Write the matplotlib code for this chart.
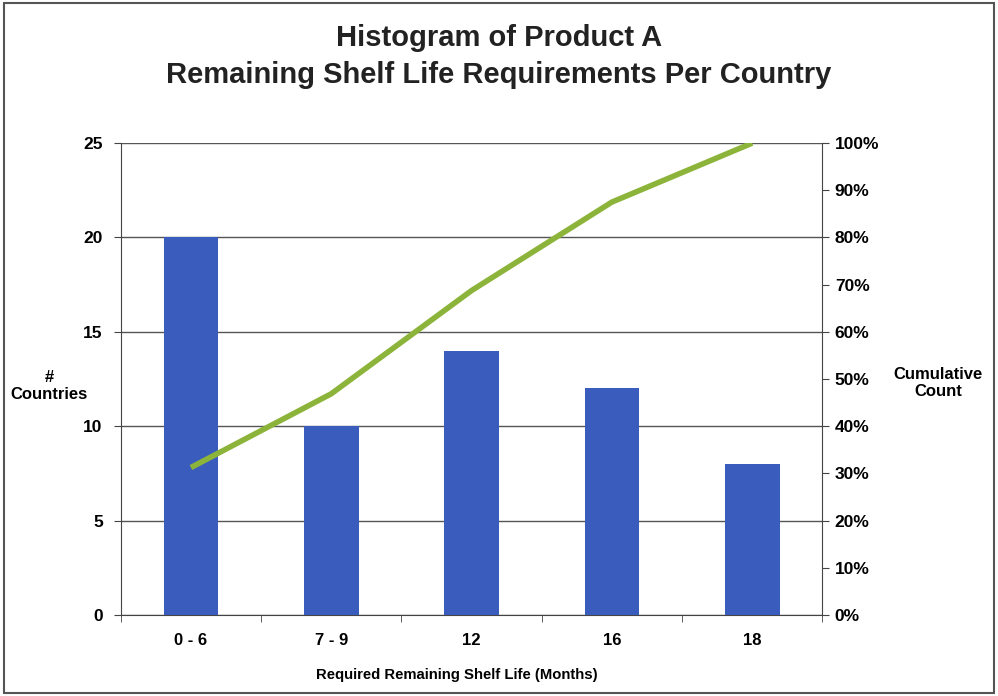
import matplotlib.pyplot as plt
import numpy as np
from matplotlib.patches import Rectangle
from matplotlib.ticker import PercentFormatter

plt.rcParams['font.family'] = ['Liberation Sans', 'DejaVu Sans']
plt.rcParams['font.weight'] = 'bold'

# Data
categories = ["0 - 6", "7 - 9", "12", "16", "18"]
countries = [20, 10, 14, 12, 8]

# Cumulative share of countries
cumulative = np.cumsum(countries) / np.sum(countries) * 100

fig = plt.figure(figsize=(9.98, 6.96), dpi=100)
ax = fig.add_axes([0.121, 0.1164, 0.703, 0.678])
x = np.arange(len(categories))

ax.bar(x, countries, width=0.39, color='#3a5cbc', zorder=3)
ax.set_xlim(-0.5, len(categories) - 0.5)
ax.set_ylim(0, 25)
ax.set_yticks(range(0, 26, 5))
ax.yaxis.grid(True, color='#555555', linewidth=1.0, zorder=0)
ax.set_axisbelow(True)

ax.set_xticks(x)
ax.set_xticklabels(categories, fontsize=12, fontweight='bold')
ax.set_xticks(np.arange(-0.5, len(categories), 1), minor=True)
ax.tick_params(axis='x', which='major', length=0, pad=13)
ax.tick_params(axis='x', which='minor', length=5, direction='out', color='#444444')
ax.tick_params(axis='y', length=5, direction='out', labelsize=12.5, color='#444444', pad=8)
for lab in ax.get_yticklabels():
    lab.set_fontweight('bold')

ax.spines['top'].set_visible(False)
ax.spines['right'].set_visible(False)
for s in ['left', 'bottom']:
    ax.spines[s].set_color('#444444')

ax.set_xlabel("Required Remaining Shelf Life (Months)", fontsize=10.7, fontweight='bold')
ax.xaxis.set_label_coords(0.479, -0.113)

ax2 = ax.twinx()
ax2.plot(x, cumulative, color='#8cb43a', linewidth=4, solid_capstyle='butt', zorder=4)
ax2.set_ylim(0, 100)
ax2.set_yticks(range(0, 101, 10))
ax2.yaxis.set_major_formatter(PercentFormatter(decimals=0))
ax2.tick_params(axis='y', length=5, direction='out', labelsize=12.5, color='#444444', pad=4)
for lab in ax2.get_yticklabels():
    lab.set_fontweight('bold')
ax2.spines['top'].set_visible(False)
ax2.spines['left'].set_visible(False)
ax2.spines['bottom'].set_visible(False)
ax2.spines['right'].set_color('#444444')

fig.text(0.049, 0.445, "#\nCountries", ha='center', va='center', fontsize=12,
         fontweight='bold', linespacing=1.15)
fig.text(0.94, 0.45, "Cumulative\nCount", ha='center', va='center', fontsize=12,
         fontweight='bold', linespacing=1.15)

fig.text(0.5, 0.945, "Histogram of Product A", ha='center', va='center', fontsize=21,
         fontweight='bold', color='#222222')
fig.text(0.5, 0.892, "Remaining Shelf Life Requirements Per Country", ha='center',
         va='center', fontsize=21, fontweight='bold', color='#222222')

# outer frame
fig.patches.append(Rectangle((0.004, 0.004), 0.992, 0.992, transform=fig.transFigure,
                             fill=False, edgecolor='#555555', linewidth=1.5))

fig.savefig("out.png", dpi=100)
